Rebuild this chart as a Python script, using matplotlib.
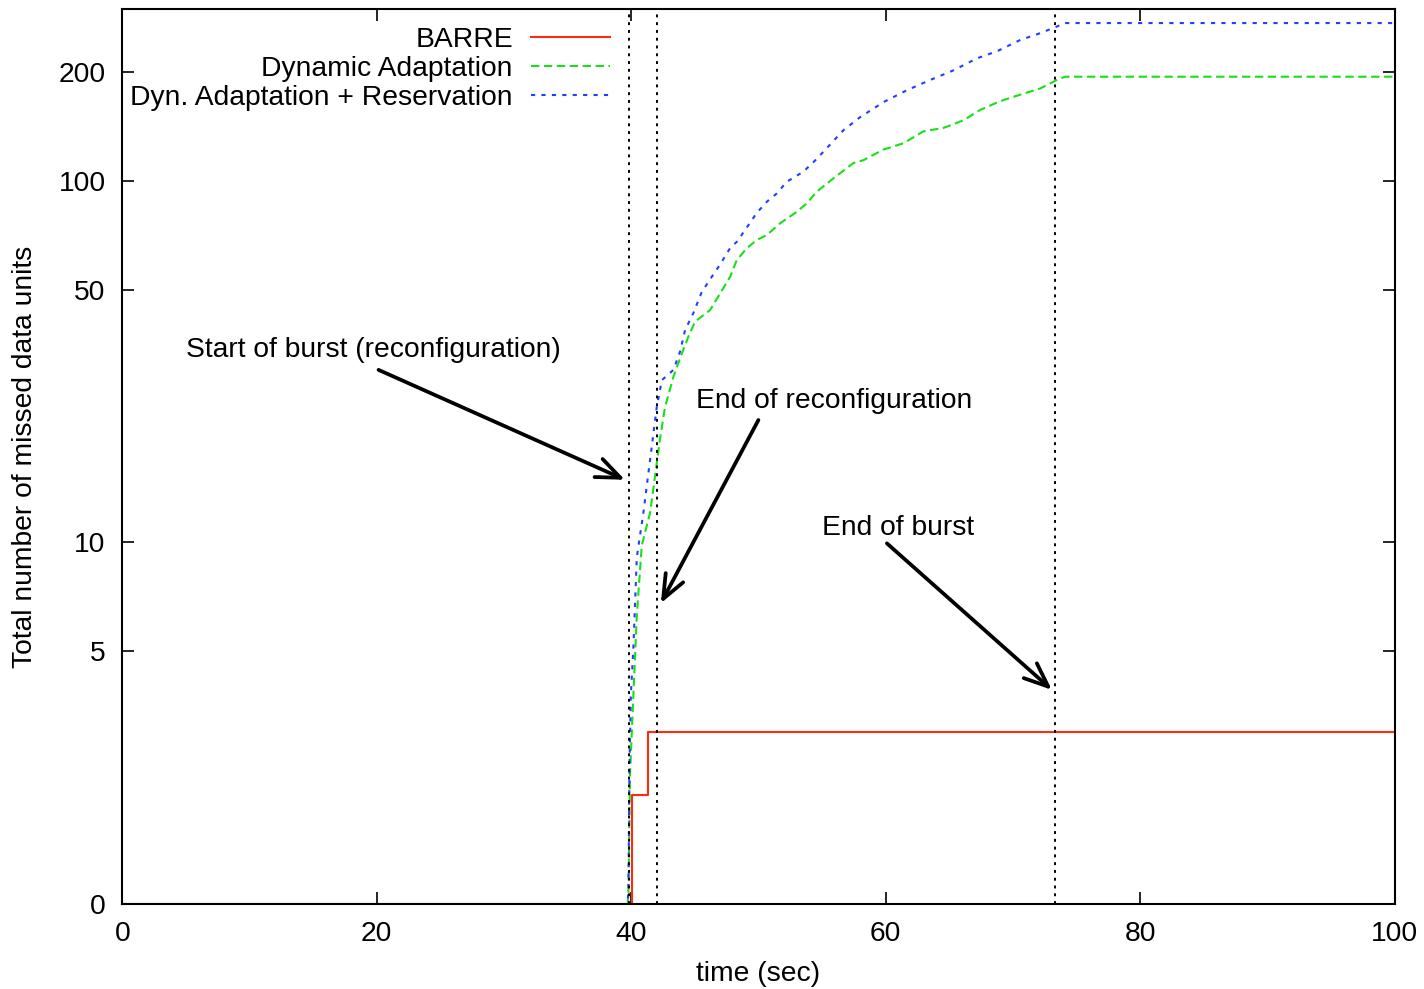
import matplotlib
matplotlib.use("Agg")
import matplotlib.pyplot as plt
import matplotlib.ticker as mticker

plt.rcParams['font.family'] = ['Liberation Sans', 'DejaVu Sans']
plt.rcParams['font.size'] = 20.3

# BARRE (step curve)
barre_t = [0, 40.1, 41.3, 100]
barre_y = [1, 2, 3, 3]

# Dynamic Adaptation
dyn_t = [0, 39.72, 39.78, 39.91, 40.17, 40.44, 40.83, 41.49, 42.27, 42.66, 43.32, 43.98, 44.50,
         45.02, 46.2, 46.99, 47.78, 48.30, 49.09, 49.87, 50.66, 51.71, 53.02, 53.81, 54.59,
         55.90, 57.47, 58.25, 59.83, 61.40, 62.97, 64.54, 66.12, 67.43, 69.0, 70.57, 72.15,
         73.46, 74.1, 100]
dyn_y = [1, 1, 1.07, 2.29, 3.78, 6.26, 9.8, 12.1, 19.4, 23.7, 28.7, 33.3, 37.1,
         40.8, 43.9, 48.8, 54.3, 60.4, 65.1, 68.6, 70.8, 76.3, 82.1, 86.7, 93.3,
         101.6, 112, 114, 122, 127, 137, 140, 147, 157, 166, 173, 180,
         190, 194, 194]

# Dyn. Adaptation + Reservation
res_t = [0, 39.68, 39.78, 39.86, 39.97, 40.17, 40.44, 40.96, 42.01, 42.41, 43.32, 43.84, 44.24,
         44.89, 45.55, 46.34, 46.99, 47.78, 48.30, 48.95, 49.87, 50.66, 51.45, 52.23, 53.54,
         54.59, 56.68, 58.0, 59.83, 61.67, 63.5, 65.33, 67.17, 68.74, 70.57, 72.15, 73.46,
         74.1, 100]
res_y = [1, 1, 1.07, 2.29, 3.78, 5.1, 9.1, 12.1, 23.7, 28.1, 30.0, 33.7, 38.7,
         43.1, 49.3, 54.3, 58.7, 65.2, 67.8, 73.1, 81.5, 87.5, 92.3, 99.4, 106,
         115, 138, 150, 165, 178, 190, 202, 218, 228, 245, 256, 267,
         273, 273]

events = [39.8, 42.0, 73.3]

notes = ["Start of burst (reconfiguration)", "End of reconfiguration", "End of burst"]
note_pos = [(5.0, 34.0), (45.1, 24.6), (55.0, 10.95)]
arrow_tail = [(20.14, 30.0), (50.0, 21.8), (60.1, 9.94)]
arrow_head = [(39.51, 14.9), (42.33, 6.79), (73.07, 3.91)]

yticks = [1, 5, 10, 50, 100, 200]
ytick_labels = ["0", "5", "10", "50", "100", "200"]

fig = plt.figure(figsize=(14.24, 9.89), dpi=100)
ax = fig.add_axes([0.0859, 0.0859, 0.8934, 0.9047])

ax.step(barre_t, barre_y, where='post', color='#ff2a10', lw=1.5, label='BARRE')
ax.plot(dyn_t, dyn_y, color='#18e018', lw=1.5, dashes=(4, 2.2), label='Dynamic Adaptation')
ax.plot(res_t, res_y, color='#2040ff', lw=1.5, dashes=(2, 3), label='Dyn. Adaptation + Reservation')

for x in events:
    ax.axvline(x, color='black', lw=1.4, dashes=(1.5, 2.5))

for txt, (tx, ty) in zip(notes, note_pos):
    ax.text(tx, ty, txt, ha='left', va='center')
for tail, head in zip(arrow_tail, arrow_head):
    ax.annotate('', xy=head, xytext=tail,
                arrowprops=dict(arrowstyle='->,head_length=0.85,head_width=0.35',
                                lw=2.7, color='black', shrinkA=0, shrinkB=0))

ax.set_yscale('log')
ax.set_xlim(0, 100)
ax.set_ylim(1, 298)
ax.set_xticks([0, 20, 40, 60, 80, 100])
ax.set_yticks(yticks)
ax.set_yticklabels(ytick_labels)
ax.yaxis.set_minor_locator(mticker.NullLocator())
ax.tick_params(which='both', direction='in', top=True, right=True, length=8.5, width=1.2)
ax.tick_params(axis='x', pad=12)
ax.tick_params(axis='y', pad=12)
for s in ax.spines.values():
    s.set_linewidth(1.5)

ax.set_xlabel("time (sec)", labelpad=10)
ax.set_ylabel("Total number of missed data units", labelpad=15)

ax.legend(loc='upper right', bbox_to_anchor=(0.3834, 0.98), frameon=False, markerfirst=False,
          handlelength=2.8, handletextpad=0.65, labelspacing=0.1, borderpad=0, borderaxespad=0)

fig.savefig('out.png', dpi=100)
